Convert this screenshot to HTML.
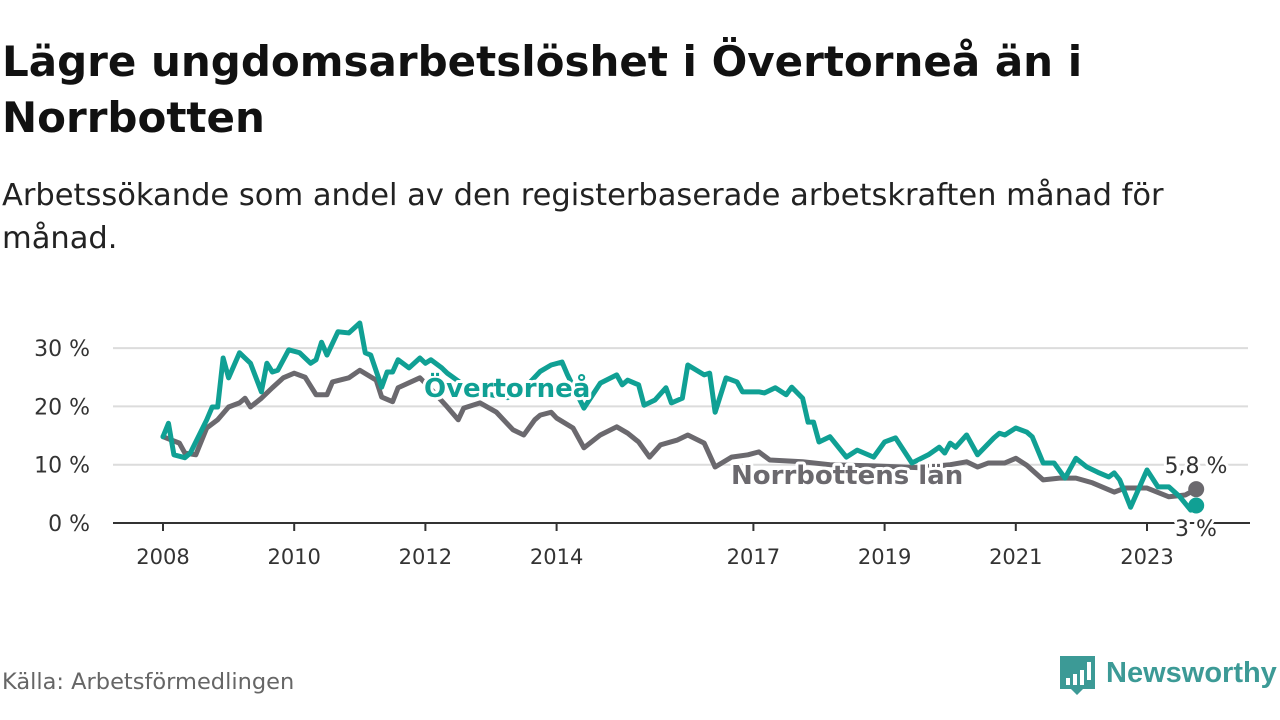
<!DOCTYPE html>
<html><head><meta charset="utf-8">
<style>
body{margin:0;width:1280px;height:720px;background:#fff;overflow:hidden;font-family:"DejaVu Sans","Liberation Sans",sans-serif;}
#title{position:absolute;left:2px;top:34px;font-size:42px;font-weight:bold;color:#111;line-height:56px;margin:0;white-space:nowrap;}
#sub{position:absolute;left:2px;top:174px;font-size:30.5px;color:#222;line-height:43px;margin:0;white-space:nowrap;}
#src{position:absolute;left:2px;top:669px;font-size:22.5px;color:#666;}
svg{position:absolute;left:0;top:0;}
</style></head><body>
<h1 id="title">Lägre ungdomsarbetslöshet i Övertorneå än i<br>Norrbotten</h1>
<p id="sub">Arbetssökande som andel av den registerbaserade arbetskraften månad för<br>månad.</p>
<div id="src">Källa: Arbetsförmedlingen</div>
<svg id="chart" width="1280" height="720"></svg>
<script>
const yTicks=[0,10,20,30];
const xTickYears=[2008,2010,2012,2014,2017,2019,2021,2023];
// months since Jan 2008
const overMonths=[0,1,2,4,5,8,9,10,11,12,14,16,18,19,20,21,23,25,27,28,29,30,32,34,36,37,38,40,41,42,43,45,47,48,49,51,52,56,60,63,67,69,71,73,74,77,80,83,84,85,87,88,90,92,93,95,96,99,100,101,103,105,106,109,110,112,114,115,117,118,119,120,122,125,127,130,132,134,137,140,142,143,144,145,147,149,152,153,154,156,158,159,161,163,165,167,169,171,173,174,175,177,180,182,184,186,188,189];
const overValues=[14.8,17.1,11.7,11.2,12,17.7,19.9,19.9,28.3,24.9,29.2,27.4,22.5,27.4,25.9,26.2,29.7,29.2,27.4,28,31,28.8,32.8,32.6,34.3,29.2,28.8,23.3,25.9,25.9,28,26.6,28.3,27.4,28,26.6,25.7,23,22,21.5,24,26,27.1,27.6,25.4,19.7,24,25.4,23.7,24.5,23.7,20.2,21.1,23.2,20.6,21.4,27.1,25.4,25.7,19,24.9,24.2,22.5,22.5,22.3,23.2,22,23.3,21.4,17.3,17.3,13.9,14.8,11.3,12.5,11.3,13.9,14.6,10.3,11.7,13,12,13.7,13,15.1,11.7,14.6,15.4,15.1,16.3,15.6,14.8,10.3,10.3,7.7,11.1,9.6,8.7,7.9,8.6,7.4,2.7,9.1,6.2,6.2,4.5,2.2,3.0];
const norrMonths=[0,3,4,6,8,10,12,14,15,16,18,20,22,24,26,28,30,31,34,36,39,40,42,43,47,49,52,54,55,58,61,64,66,68,69,71,72,75,77,80,83,85,87,89,91,94,96,99,101,104,107,109,111,117,122,130,138,144,147,149,151,154,156,158,161,164,167,170,174,176,180,184,187,189];
const norrValues=[14.8,13.7,12,11.7,16.3,17.7,19.9,20.6,21.4,19.9,21.4,23.2,24.9,25.7,25,22,22,24.2,24.9,26.2,24.5,21.6,20.8,23.2,24.9,23,19.9,17.7,19.7,20.6,19,16,15.1,17.7,18.5,19,18,16.3,12.9,15.1,16.5,15.4,13.9,11.3,13.4,14.2,15.1,13.7,9.6,11.3,11.7,12.2,10.8,10.5,10,9.8,9.5,10,10.5,9.6,10.3,10.3,11.1,9.9,7.4,7.7,7.7,6.9,5.3,6,6,4.5,4.8,5.8];

const NS='http://www.w3.org/2000/svg';
const svg=document.getElementById('chart');
const X=m=>163+m*65.6/12;
const XY=yr=>X((yr-2008)*12);
const Y=v=>523-v*5.83;
function mk(t,a){const e=document.createElementNS(NS,t);for(const k in a)e.setAttribute(k,a[k]);svg.appendChild(e);return e;}
yTicks.forEach(v=>{
  if(v>0){const g=mk('line',{x1:113,x2:1248,y1:Y(v),y2:Y(v),stroke:'#dcdcdc','stroke-width':2});
  
  }
  const t=mk('text',{x:90,y:Y(v)+8,'text-anchor':'end','font-size':22,fill:'#333'});
  t.textContent=v+' %';
  
  
});
const ax=mk('line',{x1:113,x2:1250,y1:523,y2:523,stroke:'#333','stroke-width':2});


xTickYears.forEach(yr=>{
  const tk=mk('line',{x1:XY(yr),x2:XY(yr),y1:523,y2:531,stroke:'#333','stroke-width':2});
  
  
  const t=mk('text',{x:XY(yr),y:564,'text-anchor':'middle','font-size':21,fill:'#333'});
  t.textContent=yr;
  
  
});
function line(ms,vs,col,name){
  const p=mk('polyline',{points:ms.map((m,i)=>X(m)+','+Y(vs[i])).join(' '),fill:'none',stroke:col,'stroke-width':5,'stroke-linejoin':'round','stroke-linecap':'round'});
  
  
  return p;
}
line(norrMonths,norrValues,'#6b696e','norrbotten-line');
line(overMonths,overValues,'#10a094','overtornea-line');
const lastN=norrMonths.length-1, lastO=overMonths.length-1;
const d1=mk('circle',{cx:X(norrMonths[lastN]),cy:Y(norrValues[lastN]),r:8,fill:'#6b696e'});


const d2=mk('circle',{cx:X(overMonths[lastO]),cy:Y(overValues[lastO]),r:8,fill:'#10a094'});


function lbl(x,y,txt,col,size,bold,name,anchor){
  const t=mk('text',{x:x,y:y,'font-size':size,fill:col,'font-weight':bold?'bold':'normal',stroke:'#fff','stroke-width':6,'paint-order':'stroke','stroke-linejoin':'round','text-anchor':anchor||'start'});
  t.textContent=txt;
  
  
}
lbl(424,397,'Övertorneå','#10a094',26,true,'overtornea-label');
lbl(731,484,'Norrbottens län','#6b696e',26,true,'norrbotten-label');
lbl(1196,473,'5,8 %','#333',22,false,'norrbotten-last-value','middle');
lbl(1196,536,'3 %','#333',22,false,'overtornea-last-value','middle');
// logo
const lg=mk('g',{});


const r=document.createElementNS(NS,'path');
r.setAttribute('d','M1060 656 h35 v33 h-12 l-6 6 l-6 -6 h-11 z');
r.setAttribute('fill','#3c9a96');lg.appendChild(r);
[[1066,678,7],[1073,674,11],[1080,670,15]].forEach(b=>{const e=document.createElementNS(NS,'rect');e.setAttribute('x',b[0]);e.setAttribute('y',b[1]);e.setAttribute('width',4);e.setAttribute('height',b[2]);e.setAttribute('fill','#fff');lg.appendChild(e);});
const bx=document.createElementNS(NS,'rect');bx.setAttribute('x',1087);bx.setAttribute('y',662);bx.setAttribute('width',4);bx.setAttribute('height',18);bx.setAttribute('fill','#fff');lg.appendChild(bx);
const lt=document.createElementNS(NS,'text');lt.setAttribute('x',1106);lt.setAttribute('y',682);lt.setAttribute('font-size',29);lt.setAttribute('font-weight','bold');lt.setAttribute('font-family','Liberation Sans, sans-serif');lt.setAttribute('fill','#3c9a96');lt.textContent='Newsworthy';lg.appendChild(lt);
</script>
</body></html>
